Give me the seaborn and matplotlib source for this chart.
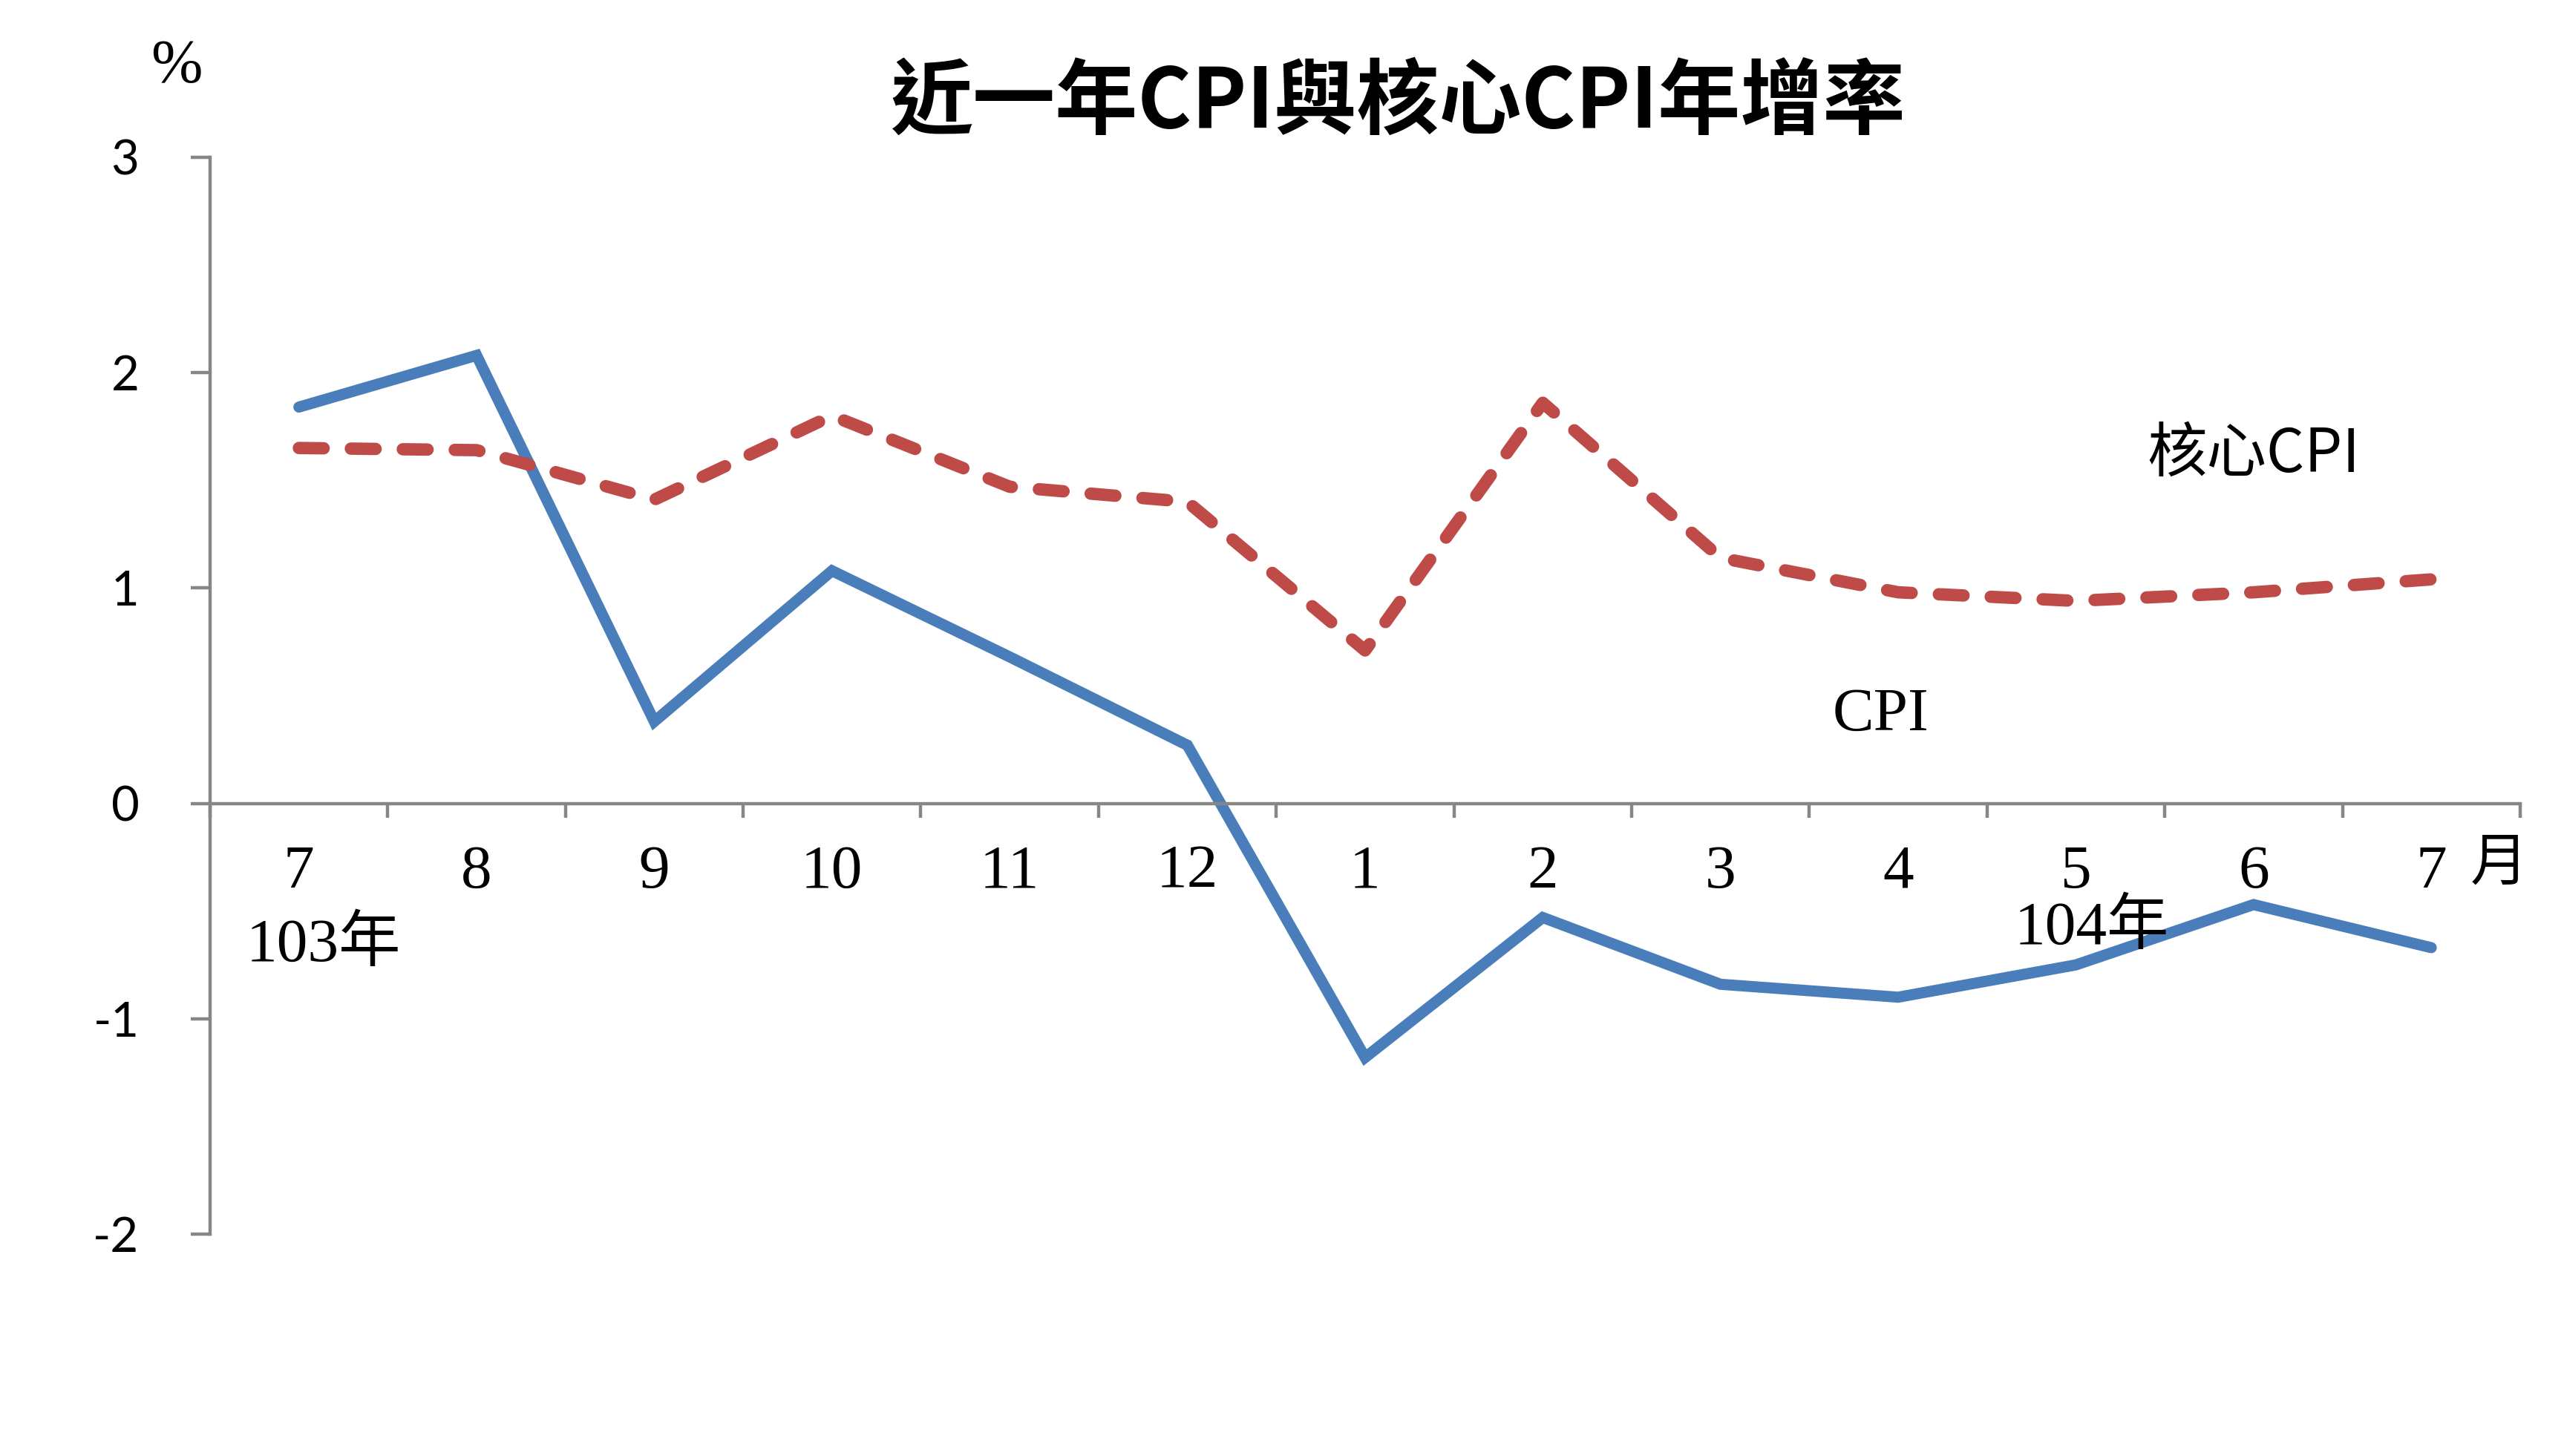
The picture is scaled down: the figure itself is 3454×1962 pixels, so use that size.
import matplotlib
matplotlib.use("Agg")
import matplotlib.pyplot as plt
import numpy as np
import seaborn as sns

# data (103/7 .. 104/7)
months = ["7", "8", "9", "10", "11", "12", "1", "2", "3", "4", "5", "6", "7"]
cpi = [1.84, 2.08, 0.38, 1.08, 0.68, 0.27, -1.18, -0.53, -0.84, -0.90, -0.75, -0.47, -0.67]
core_cpi = [1.65, 1.64, 1.41, 1.80, 1.47, 1.40, 0.71, 1.86, 1.14, 0.98, 0.94, 0.98, 1.04]
y_ticks = [-2, -1, 0, 1, 2, 3]

BLUE = "#4A7EBB"
RED = "#BE4B48"
GRAY = "#868686"

sns.set_theme(style="white")
plt.rcParams["font.family"] = ["Noto Sans CJK TC", "DejaVu Sans"]
plt.rcParams["text.color"] = "black"

SERIF = ["Liberation Serif", "Noto Sans CJK TC"]
CJK = ["Noto Sans CJK TC", "DejaVu Sans"]

fig = plt.figure(figsize=(17.275, 9.81), dpi=200)
ax = fig.add_axes([0.0819, 0.1524, 0.9007, 0.7396])

x = np.arange(len(months))
sns.lineplot(x=x, y=cpi, ax=ax, color=BLUE, linewidth=5.4,
             solid_capstyle="round", solid_joinstyle="miter")
sns.lineplot(x=x, y=core_cpi, ax=ax, color=RED, linewidth=6.0,
             linestyle=(0, (2.0, 2.2)), dash_capstyle="round",
             dash_joinstyle="round")

ax.set_xlim(-0.5, len(months) - 0.5)
ax.set_ylim(-2, 3)

# spines: y axis on the left, x axis running through zero
for side in ["top", "right"]:
    ax.spines[side].set_visible(False)
ax.spines["bottom"].set_position(("data", 0))
for side in ["left", "bottom"]:
    ax.spines[side].set_color(GRAY)
    ax.spines[side].set_linewidth(1.6)

ax.set_yticks(y_ticks)
ax.set_yticklabels([str(v) for v in y_ticks], family="Lato", fontsize=23.5)
ax.tick_params(axis="y", direction="out", length=9.4, width=1.6, color=GRAY,
               labelcolor="black", pad=25, left=True)

# category boundaries carry the tick marks, centres carry the labels
ax.set_xticks(np.arange(-0.5, len(months)), labels=[""] * (len(months) + 1))
ax.set_xticks(x, labels=months, minor=True)
ax.tick_params(axis="x", which="major", direction="out", length=7, width=1.6,
               color=GRAY, bottom=True)
ax.tick_params(axis="x", which="minor", length=0, pad=20, labelcolor="black")
for lab in ax.get_xticklabels(minor=True):
    lab.set_family(SERIF)
    lab.set_fontsize(30)

ax.set_xlabel("")
ax.set_ylabel("")
ax.grid(False)

# annotations
ax.text(11.0, 1.62, "核心CPI", family=CJK, fontsize=29, ha="center", va="center")
ax.text(8.9, 0.41, "CPI", family=SERIF, fontsize=30, ha="center", va="center")
ax.text(0.14, -0.66, "103年", family=SERIF, fontsize=30, ha="center", va="center")
ax.text(10.09, -0.58, "104年", family=SERIF, fontsize=30, ha="center", va="center")
ax.text(12.38, -0.28, "月", family=CJK, fontsize=28, ha="center", va="center",
        clip_on=False)
ax.text(-0.69, 3.42, "%", family=SERIF, fontsize=30, ha="center", va="center",
        clip_on=False)

fig.text(0.545, 0.929, "近一年CPI與核心CPI年增率", family=CJK, fontsize=40,
         fontweight="bold", ha="center", va="center")

fig.savefig("out.png", dpi=200, facecolor="white")
